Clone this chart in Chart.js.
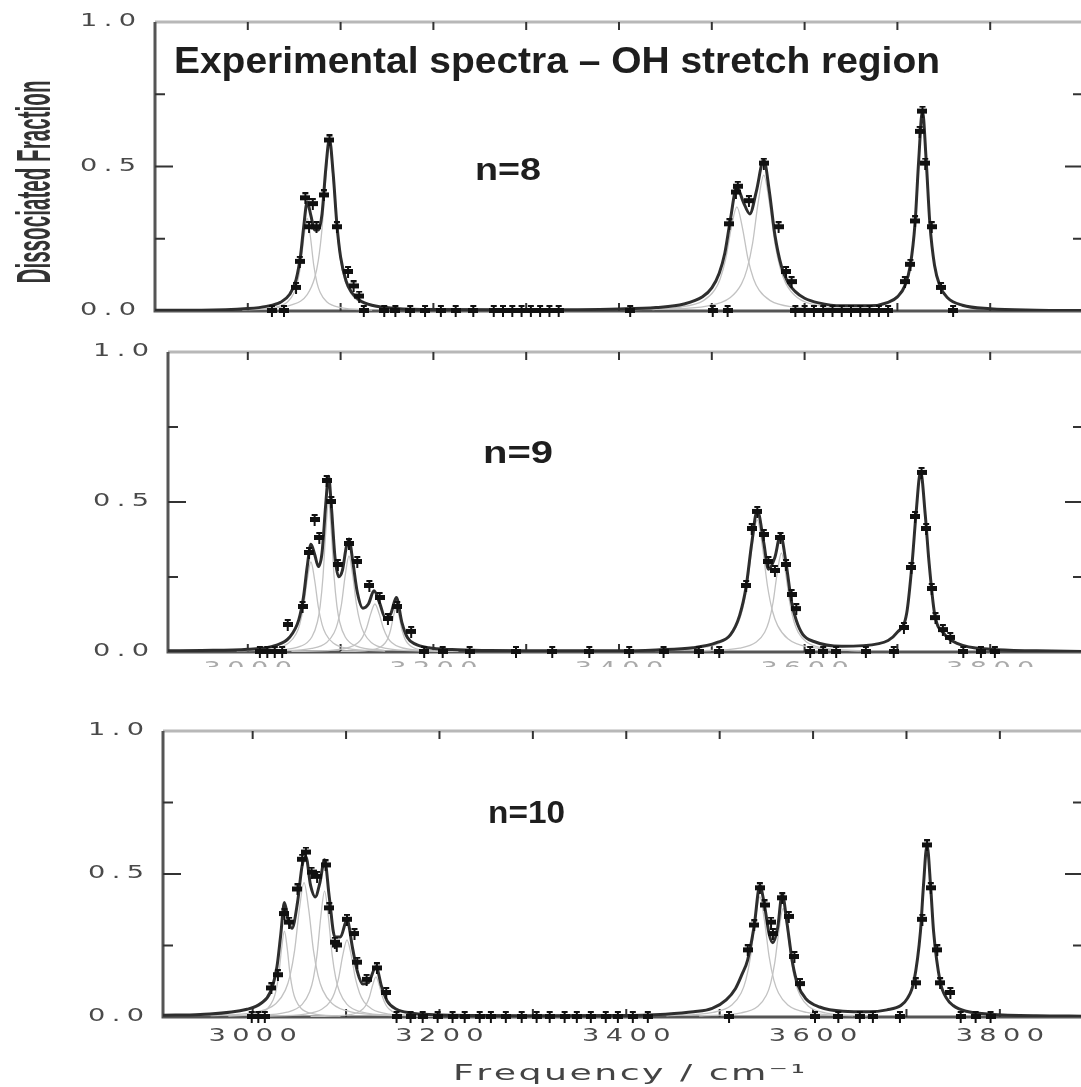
<!DOCTYPE html>
<html>
<head>
<meta charset="utf-8">
<title>Experimental spectra - OH stretch region</title>
<script src="https://cdn.jsdelivr.net/npm/chart.js@4.4.0/dist/chart.umd.min.js"></script>
<style>
  html, body { margin: 0; padding: 0; background: #fff; overflow: hidden; }
  #wrap { position: relative; width: 1081px; height: 1087px; overflow: hidden; }
  canvas { position: absolute; left: 0; top: 0; }
</style>
</head>
<body>
<div id="wrap">
  <canvas id="panel8" width="1100" height="1087"></canvas>
  <canvas id="panel9" width="1100" height="1087"></canvas>
  <canvas id="panel10" width="1100" height="1087"></canvas>
</div>
<script>
// ticks and labels
const xTickValues = [3000, 3100, 3200, 3300, 3400, 3500, 3600, 3700, 3800];
const xLabelValues = [3000, 3200, 3400, 3600, 3800];
const xLabelText = ['3000', '3200', '3400', '3600', '3800'];
const yTickValues = [0, 0.25, 0.5, 0.75, 1];
const yLabelValues = [0, 0.5, 1];
const yLabelText = ['0.0', '0.5', '1.0'];

// n=8 : fitted total, fitted bands, measured points
const fitN8 = [[2900,.003],[2950,.003],[3000,.0085],[3020,.016],[3035,.03],[3045,.057],[3052,.108],[3057,.196],[3060,.284],[3064,.377],[3068,.33],[3072,.28],[3076,.28],[3080,.336],[3084,.491],[3088,.595],[3092,.475],[3096,.30],[3100,.187],[3106,.103],[3112,.064],[3120,.038],[3135,.019],[3160,.009],[3200,.005],[3300,.004],[3400,.007],[3440,.012],[3470,.024],[3490,.049],[3500,.08],[3508,.131],[3514,.20],[3520,.316],[3527,.429],[3534,.377],[3541,.336],[3548,.414],[3556,.523],[3562,.414],[3568,.263],[3575,.155],[3582,.099],[3590,.067],[3600,.044],[3615,.028],[3640,.018],[3670,.018],[3690,.03],[3700,.049],[3708,.087],[3714,.159],[3719,.303],[3723,.524],[3727,.693],[3731,.522],[3735,.302],[3740,.158],[3746,.085],[3754,.046],[3770,.02],[3800,.008],[3850,.003],[3900,.0015]];
const bandsN8 = [
  [[2994,.0032],[3029,.0123],[3043,.032],[3050,.064],[3053.5,.0985],[3057,.16],[3060.5,.256],[3064,.32],[3067.5,.256],[3071,.16],[3074.5,.0985],[3078,.064],[3085,.032],[3099,.0123],[3134,.0032]],
  [[3008,.0056],[3048,.0219],[3064,.057],[3072,.114],[3076,.175],[3080,.285],[3084,.456],[3088,.57],[3092,.456],[3096,.285],[3100,.175],[3104,.114],[3112,.057],[3128,.0219],[3168,.0056]],
  [[3407,.0036],[3467,.0139],[3491,.036],[3503,.072],[3509,.111],[3515,.18],[3521,.288],[3527,.36],[3533,.288],[3539,.18],[3545,.111],[3551,.072],[3563,.036],[3587,.0139],[3647,.0036]],
  [[3436,.0047],[3496,.0181],[3520,.047],[3532,.094],[3538,.145],[3544,.235],[3550,.376],[3556,.47],[3562,.376],[3568,.235],[3574,.145],[3580,.094],[3592,.047],[3616,.0181],[3676,.0047]]
];
const pointsN8 = [[3026,0],[3039,0],[3052,.08],[3056,.17],[3062,.39],[3066,.29],[3070,.37],[3074,.29],[3082,.40],[3088,.59],[3096,.29],[3108,.135],[3114,.085],[3120,.05],[3125,0],[3147,0],[3159,0],[3175,0],[3191,0],[3208,0],[3224,0],[3243,0],[3265,0],[3275,0],[3285,0],[3295,0],[3305,0],[3315,0],[3325,0],[3335,0],[3412,0],[3501,0],[3517,0],[3519,.30],[3526,.41],[3528,.43],[3540,.38],[3556,.51],[3572,.29],[3580,.135],[3586,.10],[3590,0],[3600,0],[3610,0],[3620,0],[3630,0],[3640,0],[3650,0],[3660,0],[3670,0],[3680,0],[3690,0],[3708,.10],[3714,.16],[3719,.31],[3724,.62],[3727,.69],[3730,.51],[3737,.29],[3747,.08],[3760,0]];

// n=9
const fitN9 = [[2914,.004],[2950,.005],[3000,.009],[3030,.022],[3045,.049],[3055,.108],[3060,.183],[3064,.284],[3068,.359],[3072,.326],[3076,.285],[3080,.331],[3084,.493],[3087,.586],[3090,.487],[3094,.314],[3098,.251],[3102,.273],[3106,.348],[3109,.377],[3113,.305],[3118,.199],[3124,.146],[3130,.16],[3136,.204],[3142,.164],[3148,.115],[3154,.127],[3160,.182],[3166,.099],[3172,.048],[3180,.027],[3195,.014],[3220,.008],[3260,.005],[3300,.004],[3350,.004],[3400,.004],[3440,.007],[3480,.014],[3505,.031],[3520,.057],[3530,.122],[3537,.218],[3543,.362],[3549,.472],[3556,.364],[3561,.276],[3568,.316],[3574,.39],[3580,.296],[3586,.166],[3591,.106],[3598,.059],[3610,.035],[3640,.019],[3680,.028],[3700,.066],[3710,.129],[3716,.302],[3720,.458],[3725,.602],[3730,.458],[3734,.302],[3740,.129],[3750,.062],[3765,.028],[3800,.009],[3850,.004],[3900,.002]];
const bandsN9 = [
  [[2988,.003],[3028,.0116],[3044,.03],[3052,.06],[3056,.0923],[3060,.15],[3064,.24],[3068,.30],[3072,.24],[3076,.15],[3080,.0923],[3084,.06],[3092,.03],[3108,.0116],[3148,.003]],
  [[3027,.005],[3057,.0193],[3069,.05],[3075,.10],[3078,.154],[3081,.25],[3084,.40],[3087,.50],[3090,.40],[3093,.25],[3096,.154],[3099,.10],[3105,.05],[3117,.0193],[3147,.005]],
  [[3029,.0032],[3069,.0123],[3085,.032],[3093,.064],[3097,.0985],[3101,.16],[3105,.256],[3109,.32],[3113,.256],[3117,.16],[3121,.0985],[3125,.064],[3133,.032],[3149,.0123],[3189,.0032]],
  [[3047,.0016],[3092,.0062],[3110,.016],[3119,.032],[3123.5,.049],[3128,.08],[3132.5,.128],[3137,.16],[3141.5,.128],[3146,.08],[3150.5,.049],[3155,.032],[3164,.016],[3182,.0062],[3227,.0016]],
  [[3100,.0015],[3130,.0058],[3142,.015],[3148,.03],[3151,.046],[3154,.075],[3157,.12],[3160,.15],[3163,.12],[3166,.075],[3169,.046],[3172,.03],[3178,.015],[3190,.0058],[3220,.0015]],
  [[3439,.0044],[3494,.0169],[3516,.044],[3527,.088],[3532.5,.135],[3538,.22],[3543.5,.352],[3549,.44],[3554.5,.352],[3560,.22],[3565.5,.135],[3571,.088],[3582,.044],[3604,.0169],[3659,.0044]],
  [[3485,.0033],[3530,.0127],[3548,.033],[3557,.066],[3561.5,.1015],[3566,.165],[3570.5,.264],[3575,.33],[3579.5,.264],[3584,.165],[3588.5,.1015],[3593,.066],[3602,.033],[3620,.0127],[3665,.0033]]
];
const pointsN9 = [[3013,0],[3021,0],[3029,0],[3037,0],[3043,.09],[3059,.15],[3066,.33],[3072,.44],[3077,.38],[3085,.57],[3090,.50],[3097,.29],[3109,.36],[3118,.30],[3131,.22],[3142,.18],[3151,.11],[3161,.15],[3176,.067],[3190,0],[3210,0],[3239,0],[3289,0],[3328,0],[3368,0],[3411,0],[3448,0],[3486,0],[3508,0],[3537,.22],[3543,.41],[3549,.467],[3556,.39],[3561,.30],[3568,.27],[3574,.38],[3580,.29],[3586,.19],[3591,.143],[3606,0],[3620,0],[3634,0],[3666,0],[3696,0],[3707,.08],[3715,.28],[3719,.45],[3726,.597],[3731,.41],[3737,.21],[3741,.113],[3749,.073],[3757,.047],[3771,0],[3790,0],[3805,0]];

// n=10
const fitN10 = [[2904,.006],[2944,.009],[2994,.027],[3009,.048],[3019,.088],[3026,.176],[3030,.286],[3034,.40],[3038,.34],[3042,.31],[3048,.40],[3053,.53],[3057,.56],[3062,.46],[3067,.42],[3072,.47],[3077,.55],[3082,.42],[3088,.28],[3094,.28],[3101,.34],[3107,.24],[3112,.16],[3118,.115],[3124,.12],[3132,.176],[3138,.107],[3144,.056],[3154,.027],[3169,.014],[3194,.008],[3244,.005],[3294,.004],[3392,.005],[3442,.01],[3472,.018],[3492,.03],[3507,.06],[3517,.10],[3524,.15],[3530,.20],[3537,.32],[3543,.46],[3548,.39],[3553,.29],[3557,.26],[3562,.31],[3567,.43],[3572,.33],[3578,.19],[3584,.11],[3592,.065],[3607,.035],[3632,.02],[3660,.018],[3679,.025],[3694,.04],[3701,.065],[3708,.125],[3715,.30],[3718,.45],[3722,.60],[3726,.45],[3729,.30],[3736,.125],[3743,.065],[3750,.04],[3764,.02],[3789,.01],[3839,.004],[3889,.003]];
const bandsN10 = [
  [[2974,.003],[3004,.0116],[3016,.03],[3022,.06],[3025,.0923],[3028,.15],[3031,.24],[3034,.30],[3037,.24],[3040,.15],[3043,.0923],[3046,.06],[3052,.03],[3064,.0116],[3094,.003]],
  [[2955,.0047],[3005,.0181],[3025,.047],[3035,.094],[3040,.145],[3045,.235],[3050,.376],[3055,.47],[3060,.376],[3065,.235],[3070,.145],[3075,.094],[3085,.047],[3105,.0181],[3155,.0047]],
  [[2997,.0044],[3037,.0169],[3053,.044],[3061,.088],[3065,.135],[3069,.22],[3073,.352],[3077,.44],[3081,.352],[3085,.22],[3089,.135],[3093,.088],[3101,.044],[3117,.0169],[3157,.0044]],
  [[3011,.0027],[3056,.0104],[3074,.027],[3083,.054],[3087.5,.083],[3092,.135],[3096.5,.216],[3101,.27],[3105.5,.216],[3110,.135],[3114.5,.083],[3119,.054],[3128,.027],[3146,.0104],[3191,.0027]],
  [[3062,.0014],[3097,.0054],[3111,.014],[3118,.028],[3121.5,.043],[3125,.07],[3128.5,.112],[3132,.14],[3135.5,.112],[3139,.07],[3142.5,.043],[3146,.028],[3153,.014],[3167,.0054],[3202,.0014]],
  [[3443,.0042],[3493,.0162],[3513,.042],[3523,.084],[3528,.129],[3533,.21],[3538,.336],[3543,.42],[3548,.336],[3553,.21],[3558,.129],[3563,.084],[3573,.042],[3593,.0162],[3643,.0042]],
  [[3478,.0038],[3523,.0146],[3541,.038],[3550,.076],[3554.5,.117],[3559,.19],[3563.5,.304],[3568,.38],[3572.5,.304],[3577,.19],[3581.5,.117],[3586,.076],[3595,.038],[3613,.0146],[3658,.0038]]
];
const pointsN10 = [[2999,0],[3006,0],[3013,0],[3020,.10],[3027,.146],[3034,.36],[3039,.33],[3048,.446],[3053,.55],[3057,.575],[3063,.505],[3069,.49],[3078,.53],[3082,.38],[3088,.26],[3090,.25],[3101,.34],[3109,.29],[3112,.19],[3122,.13],[3133,.17],[3143,.084],[3154,0],[3169,0],[3182,0],[3198,0],[3214,0],[3227,0],[3243,0],[3255,0],[3271,0],[3288,0],[3304,0],[3318,0],[3334,0],[3347,0],[3362,0],[3378,0],[3391,0],[3407,0],[3423,0],[3510,0],[3530,.233],[3537,.32],[3543,.45],[3548,.39],[3555,.33],[3557,.29],[3567,.415],[3574,.35],[3580,.21],[3586,.115],[3602,0],[3627,0],[3650,0],[3664,0],[3693,0],[3710,.118],[3717,.34],[3722,.60],[3726,.45],[3733,.233],[3736,.118],[3747,.084],[3758,0],[3774,0],[3790,0]];


// marker with small error bar
const marca = document.createElement('canvas');
marca.width = 10; marca.height = 12;
const mctx = marca.getContext('2d');
mctx.fillStyle = '#111';
mctx.fillRect(0, 3, 10, 5);
mctx.fillRect(4, 0, 2, 12);
mctx.fillRect(2, 0, 6, 2);

function drawText(ctx, text, x, y, o) {
  ctx.save();
  ctx.font = o.font;
  ctx.fillStyle = o.color || '#222';
  ctx.textBaseline = o.baseline || 'alphabetic';
  ctx.textAlign = 'left';
  const sp = o.spacing || 0;
  const chars = Array.from(text);
  const widths = chars.map(c => ctx.measureText(c).width);
  const natural = sp ? widths.reduce((a, b) => a + b, 0) + sp * (chars.length - 1) : ctx.measureText(text).width;
  const sx = o.width ? o.width / natural : (o.sx || 1);
  const total = natural * sx;
  ctx.translate(x, y);
  if (o.rotate) ctx.rotate(o.rotate);
  const start = o.align === 'center' ? -total / 2 : (o.align === 'right' ? -total : 0);
  ctx.translate(start, 0);
  ctx.scale(sx, 1);
  if (sp) {
    let cx = 0;
    chars.forEach((c, i) => { ctx.fillText(c, cx, 0); cx += widths[i] + sp; });
  } else {
    ctx.fillText(text, 0, 0);
  }
  ctx.restore();
}

const labelStyle = { font: '17px "DejaVu Sans"', color: '#4a4a4a', sx: 1.6, spacing: 4, baseline: 'middle' };

const framePlugin = {
  id: 'frame',
  beforeDatasetsDraw(chart, args, o) {
    const { ctx, chartArea: a } = chart;
    const x = chart.scales.x, y = chart.scales.y;
    ctx.save();
    ctx.lineWidth = 3;
    ctx.strokeStyle = '#b8b8b8';
    ctx.beginPath(); ctx.moveTo(a.left, a.top); ctx.lineTo(a.right, a.top); ctx.lineTo(a.right, a.bottom); ctx.stroke();
    ctx.strokeStyle = '#555';
    ctx.beginPath(); ctx.moveTo(a.left, a.top); ctx.lineTo(a.left, a.bottom); ctx.lineTo(a.right, a.bottom); ctx.stroke();
    ctx.lineWidth = 2;
    ctx.strokeStyle = '#333';
    x.ticks.forEach(t => {
      const px = x.getPixelForValue(t.value);
      ctx.beginPath();
      ctx.moveTo(px, a.top); ctx.lineTo(px, a.top + 8);
      ctx.moveTo(px, a.bottom); ctx.lineTo(px, a.bottom - 8);
      ctx.stroke();
    });
    y.ticks.forEach(t => {
      if (t.value <= 0 || t.value >= 1) return;
      const py = y.getPixelForValue(t.value);
      const len = t.value === 0.5 ? 18 : 10;
      ctx.beginPath();
      ctx.moveTo(a.left, py); ctx.lineTo(a.left + len, py);
      ctx.moveTo(a.right, py); ctx.lineTo(a.right - len, py);
      ctx.stroke();
    });
    ctx.restore();
  },
  afterDraw(chart, args, o) {
    const { ctx, chartArea: a } = chart;
    const x = chart.scales.x, y = chart.scales.y;
    yLabelValues.forEach((v, i) => {
      drawText(ctx, yLabelText[i], a.left - 19, y.getPixelForValue(v), Object.assign({ align: 'right' }, labelStyle));
    });
    if (o.xLabels) {
      ctx.save();
      if (o.xClip) { ctx.beginPath(); ctx.rect(0, 0, chart.width, o.xClip); ctx.clip(); }
      xLabelValues.forEach((v, i) => {
        drawText(ctx, xLabelText[i], x.getPixelForValue(v), o.xLabelY,
          Object.assign({}, labelStyle, { align: 'center', color: o.xLabelColor || labelStyle.color }));
      });
      ctx.restore();
    }
    (o.texts || []).forEach(t => drawText(ctx, t.text, t.x, t.y, t));
  }
};

function toXY(arr) {
  return arr.map(p => ({ x: p[0], y: p[1] }));
}

function makePanel(id, fit, bands, points, cfg) {
  const datasets = bands.map(b => ({
    data: toXY(b), showLine: true, borderColor: '#c2c2c2', borderWidth: 1.3,
    pointRadius: 0, cubicInterpolationMode: 'monotone', order: 3
  }));
  datasets.push({
    data: toXY(fit), showLine: true, borderColor: '#2e2e2e', borderWidth: 3,
    pointRadius: 0, cubicInterpolationMode: 'monotone', order: 2
  });
  datasets.push({
    data: toXY(points), showLine: false, pointStyle: marca, pointRadius: 5,
    clip: false, order: 1
  });

  return new Chart(document.getElementById(id), {
    type: 'scatter',
    data: { datasets: datasets },
    plugins: [framePlugin],
    options: {
      responsive: false,
      animation: false,
      devicePixelRatio: 1,
      layout: { padding: { top: cfg.top, right: 1100 - cfg.right, left: 0, bottom: 0 } },
      events: [],
      plugins: {
        legend: { display: false },
        tooltip: { enabled: false },
        frame: cfg.frame
      },
      scales: {
        x: {
          type: 'linear', min: cfg.xmin, max: cfg.xmax,
          grid: { display: false }, border: { display: false }, ticks: { display: false },
          afterBuildTicks: s => { s.ticks = xTickValues.map(v => ({ value: v })); },
          afterFit: s => { s.height = 1087 - cfg.bottom; }
        },
        y: {
          min: 0, max: 1,
          grid: { display: false }, border: { display: false }, ticks: { display: false },
          afterBuildTicks: s => { s.ticks = yTickValues.map(v => ({ value: v })); },
          afterFit: s => { s.width = cfg.left; }
        }
      }
    }
  });
}

makePanel('panel8', fitN8, bandsN8, pointsN8, {
  left: 155, right: 1083, top: 22, bottom: 311, xmin: 2900, xmax: 3900,
  frame: {
    texts: [
      { text: 'Experimental spectra \u2013 OH stretch region', x: 174, y: 73, font: 'bold 36px "Liberation Sans"', width: 766, color: '#1e1e1e' },
      { text: 'n=8', x: 475, y: 180, font: 'bold 31px "Liberation Sans"', width: 66, color: '#1e1e1e' },
      { text: 'Dissociated Fraction', x: 50, y: 182, rotate: -Math.PI / 2, align: 'center', font: 'bold 48px "Liberation Sans"', width: 203, color: '#333' }
    ]
  }
});

makePanel('panel9', fitN9, bandsN9, pointsN9, {
  left: 168, right: 1083, top: 352, bottom: 652, xmin: 2914, xmax: 3900,
  frame: {
    xLabels: true, xLabelY: 670, xClip: 667, xLabelColor: '#aaa',
    texts: [
      { text: 'n=9', x: 483, y: 463, font: 'bold 31px "Liberation Sans"', width: 70, color: '#1e1e1e' }
    ]
  }
});

makePanel('panel10', fitN10, bandsN10, pointsN10, {
  left: 163, right: 1083, top: 731, bottom: 1017, xmin: 2904, xmax: 3889,
  frame: {
    xLabels: true, xLabelY: 1037,
    texts: [
      { text: 'n=10', x: 488, y: 823, font: 'bold 31px "Liberation Sans"', width: 77, color: '#1e1e1e' },
      { text: 'Frequency / cm\u207B\u00B9', x: 629, y: 1080, align: 'center', font: '22px "DejaVu Sans"', spacing: 1.5, width: 352, color: '#444' }
    ]
  }
});
</script>
</body>
</html>
